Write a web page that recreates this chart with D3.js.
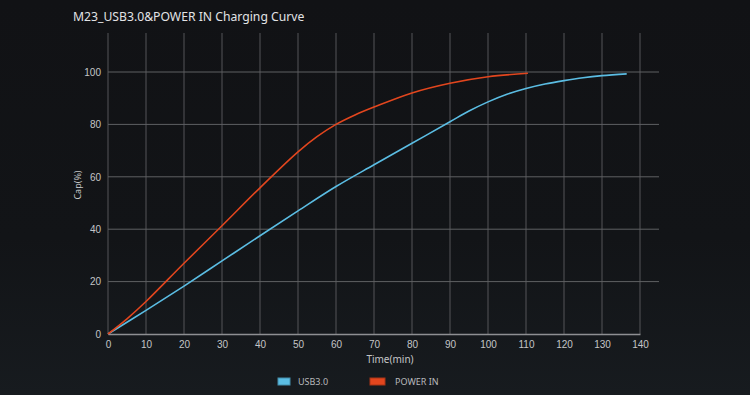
<!DOCTYPE html>
<html>
<head>
<meta charset="utf-8">
<script src="https://cdn.jsdelivr.net/npm/d3@7/dist/d3.min.js"></script>
<style>
  body { margin: 0; background: #111215; }
  svg { display: block; font-family: "Noto Sans", "Open Sans", sans-serif; }
</style>
</head>
<body>
<div id="chart"></div>
<script>
// Data
const X_TICKS = [0, 10, 20, 30, 40, 50, 60, 70, 80, 90, 100, 110, 120, 130, 140];
const Y_TICKS = [0, 20, 40, 60, 80, 100];

const USB_TIME = [0, 10, 20, 30, 40, 50, 60, 70, 80, 90, 95, 100, 105, 110, 115, 120, 125, 130, 136.5];
const USB_CAP = [0, 9, 18.3, 27.9, 37.5, 47, 56.3, 64.6, 72.8, 81, 85.1, 88.6, 91.5, 93.7, 95.4, 96.7, 97.8, 98.6, 99.3];

const POWER_TIME = [0, 5, 10, 20, 30, 40, 50, 55, 60, 65, 70, 80, 90, 100, 110.5];
const POWER_CAP = [0, 5.8, 12.4, 27, 41.3, 55.8, 69.5, 75.3, 80, 83.6, 86.6, 92, 95.7, 98.2, 99.5];

const SERIES = [
  { name: 'USB3.0', color: '#5bbde3', time: USB_TIME, cap: USB_CAP },
  { name: 'POWER IN', color: '#e2461e', time: POWER_TIME, cap: POWER_CAP }
];

const WIDTH = 750;
const HEIGHT = 395;

setup();

function setup () {
  const svg = d3.select('#chart')
    .append('svg')
    .attr('width', WIDTH)
    .attr('height', HEIGHT);

  // background, slightly lighter towards the bottom
  const defs = svg.append('defs');
  const grad = defs.append('linearGradient')
    .attr('id', 'bg')
    .attr('x1', 0).attr('y1', 0).attr('x2', 0).attr('y2', 1);
  grad.append('stop').attr('offset', '0%').attr('stop-color', '#111215');
  grad.append('stop').attr('offset', '60%').attr('stop-color', '#121417');
  grad.append('stop').attr('offset', '100%').attr('stop-color', '#171b1f');

  svg.append('rect')
    .attr('width', WIDTH)
    .attr('height', HEIGHT)
    .attr('fill', 'url(#bg)');

  const xScale = d3.scaleLinear().domain([0, 140]).range([108, 640]);
  const yScale = d3.scaleLinear().domain([0, 100]).range([334, 72]);
  const gridTop = 33;
  const gridRight = 659;

  // vertical grid
  svg.append('g')
    .selectAll('line')
    .data(X_TICKS)
    .join('line')
    .attr('x1', d => xScale(d))
    .attr('x2', d => xScale(d))
    .attr('y1', yScale(0))
    .attr('y2', gridTop)
    .attr('stroke', '#545558')
    .attr('stroke-width', 1);

  // horizontal grid
  svg.append('g')
    .selectAll('line')
    .data(Y_TICKS.filter(d => d > 0))
    .join('line')
    .attr('x1', xScale(0))
    .attr('x2', gridRight)
    .attr('y1', d => yScale(d))
    .attr('y2', d => yScale(d))
    .attr('stroke', '#5f6063')
    .attr('stroke-width', 1);

  // x axis
  const xAxis = d3.axisBottom(xScale)
    .tickValues(X_TICKS)
    .tickSize(0)
    .tickPadding(7);

  const gx = svg.append('g')
    .attr('transform', `translate(0, ${yScale(0)})`)
    .call(xAxis);
  gx.select('.domain').attr('stroke', '#8e8f92').attr('stroke-width', 1.6);
  gx.selectAll('text').attr('fill', '#c4c5c7').style('font-size', '10px');

  // y axis
  const yAxis = d3.axisLeft(yScale)
    .tickValues(Y_TICKS)
    .tickSize(0)
    .tickPadding(7);

  const gy = svg.append('g')
    .attr('transform', `translate(${xScale(0)}, 0)`)
    .call(yAxis);
  gy.select('.domain').remove();
  gy.selectAll('text').attr('fill', '#c4c5c7').style('font-size', '10px');

  // curves
  const line = d3.line()
    .x(d => xScale(d[0]))
    .y(d => yScale(d[1]))
    .curve(d3.curveCatmullRom.alpha(0.5));

  svg.append('g')
    .selectAll('path')
    .data(SERIES)
    .join('path')
    .attr('d', s => line(s.time.map((t, i) => [t, s.cap[i]])))
    .attr('fill', 'none')
    .attr('stroke', s => s.color)
    .attr('stroke-width', 1.6);

  // title and axis labels
  svg.append('text')
    .attr('x', 73)
    .attr('y', 21)
    .attr('fill', '#e2e3e5')
    .style('font-size', '12.2px')
    .text('M23_USB3.0&POWER IN Charging Curve');

  svg.append('text')
    .attr('transform', 'translate(81, 185) rotate(-90)')
    .attr('text-anchor', 'middle')
    .attr('fill', '#c4c5c7')
    .style('font-size', '9px')
    .text('Cap(%)');

  svg.append('text')
    .attr('x', 390)
    .attr('y', 363)
    .attr('text-anchor', 'middle')
    .attr('fill', '#c4c5c7')
    .style('font-size', '10px')
    .text('Time(min)');

  // legend
  const legendX = [278, 370];
  const legend = svg.append('g')
    .selectAll('g')
    .data(SERIES)
    .join('g')
    .attr('transform', (d, i) => `translate(${legendX[i]}, 378)`);

  legend.append('rect')
    .attr('width', (d, i) => i === 0 ? 12 : 15)
    .attr('height', 7)
    .attr('fill', d => d.color)
    .attr('stroke', d => d3.color(d.color).darker(0.8))
    .attr('stroke-width', 1);

  legend.append('text')
    .attr('x', (d, i) => i === 0 ? 20 : 25)
    .attr('y', 7)
    .attr('fill', '#b8b9bc')
    .style('font-size', '9px')
    .text(d => d.name);
}
</script>
</body>
</html>
